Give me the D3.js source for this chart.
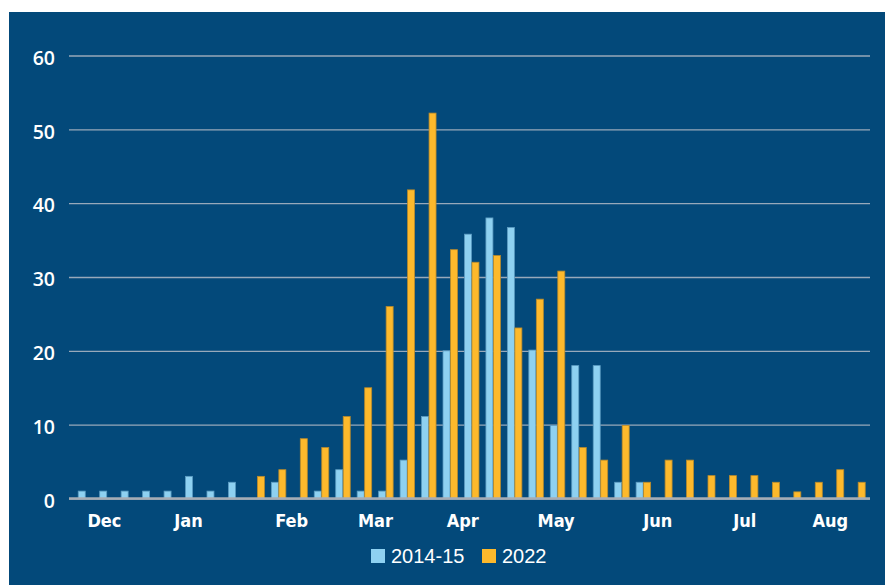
<!DOCTYPE html>
<html lang="en">
<head>
<meta charset="utf-8">
<title></title>
<script src="https://d3js.org/d3.v7.min.js"></script>
<style type="text/css">
    body{
        margin: 0;
        background: #fff;
    }
    .ylab text{
        font-family: "Open Sans", sans-serif;
        font-size: 19.5px;
        font-weight: 600;
        fill: #fff;
    }
    .mlab{
        font-family: "Liberation Sans Narrow", "DejaVu Sans Condensed", sans-serif;
        font-size: 18px;
        font-weight: bold;
        fill: #fff;
    }
    .leg{
        font-family: "Liberation Sans", Arial, sans-serif;
        font-size: 20px;
        fill: #fff;
    }
</style>
</head>
<body>
<div id="frame"></div>
<script type="text/javascript">

// weekly counts, one slot per week (Dec -> Aug), null = no bar
const series2014 = [1, 1, 1, 1, 1, 3, 1, 2.2, null, 2.2, null, 1, 3.9, 1, 1, 5.2, 11.1, 20, 35.8, 38, 36.7, 20.1, 9.9, 18, 18, 2.2, 2.2,
    null, null, null, null, null, null, null, null, null, null];
const series2022 = [null, null, null, null, null, null, null, null,
    3, 3.9, 8.1, 6.9, 11.1, 15, 26, 41.8, 52.2, 33.7, 32, 32.9, 23.1, 27, 30.8, 6.9, 5.2, 9.9, 2.2,
    5.2, 5.2, 3.1, 3.1, 3.1, 2.2, 0.9, 2.2, 3.9, 2.2];

const seriesNames = ["2014-15", "2022"];
const seriesColors = ["#8ed1f1", "#fdb92c"];
const seriesStrokes = ["#5c9cc2", "#b98a2c"];

// month tick labels and where they sit, in week slots
const monthLabels = ["Dec", "Jan", "Feb", "Mar", "Apr", "May", "Jun", "Jul", "Aug"];
const monthAt = [0.87, 4.79, 9.6, 13.5, 17.57, 21.92, 26.66, 30.71, 34.7];

const yTicks = [0, 10, 20, 30, 40, 50, 60];

const W = 885, H = 585;
const left = 69, right = 870;
const barW = 7;

const svg = d3.select("#frame").append("svg")
    .attr("width", W)
    .attr("height", H);

// the blue panel
svg.append("rect")
    .attr("x", 9).attr("y", 12)
    .attr("width", W - 9).attr("height", H - 12)
    .attr("fill", "#03497a");

const x = d3.scaleLinear()
    .domain([-0.78, 36.55])
    .range([left, right]);

const y = d3.scaleLinear()
    .domain([0, 60])
    .range([498.5, 55.5]);

// grid + y labels
const yAxis = svg.append("g")
    .attr("class", "ylab")
    .attr("transform", "translate(" + left + ",0)")
    .call(d3.axisLeft(y).tickValues(yTicks).tickSize(-(right - left)).tickPadding(14));

yAxis.select(".domain").remove();
yAxis.selectAll("line")
    .attr("stroke", "#98a9ba")
    .attr("stroke-width", 1.3);
yAxis.selectAll("text")
    .attr("dy", "0.45em");

// bars
const barData = [];
series2014.forEach((v, i) => { if (v != null) barData.push({ s: 0, i: i, v: v }); });
series2022.forEach((v, i) => { if (v != null) barData.push({ s: 1, i: i, v: v }); });

svg.append("g").selectAll("rect")
    .data(barData)
    .enter()
    .append("rect")
    .attr("x", d => d.s === 0 ? x(d.i) - barW - 0.5 : x(d.i))
    .attr("y", d => y(d.v))
    .attr("width", barW)
    .attr("height", d => y(0) - y(d.v))
    .attr("fill", d => seriesColors[d.s])
    .attr("stroke", d => seriesStrokes[d.s])
    .attr("stroke-width", 0.8);

// zero line
svg.append("line")
    .attr("x1", left).attr("x2", right)
    .attr("y1", y(0)).attr("y2", y(0))
    .attr("stroke", "#a6adb5")
    .attr("stroke-width", 2.4);

// month labels
svg.append("g").selectAll("text")
    .data(monthLabels)
    .enter()
    .append("text")
    .attr("class", "mlab")
    .attr("x", (d, i) => x(monthAt[i]))
    .attr("y", 527)
    .attr("text-anchor", "middle")
    .text(d => d);

// legend
const legX = [371, 482];
const leg = svg.append("g").selectAll("g")
    .data(seriesNames)
    .enter()
    .append("g")
    .attr("transform", (d, i) => "translate(" + legX[i] + ",549)");

leg.append("rect")
    .attr("width", 14).attr("height", 14)
    .attr("fill", (d, i) => seriesColors[i]);

leg.append("text")
    .attr("class", "leg")
    .attr("x", 20)
    .attr("y", 14)
    .text(d => d);

</script>
</body>
</html>
